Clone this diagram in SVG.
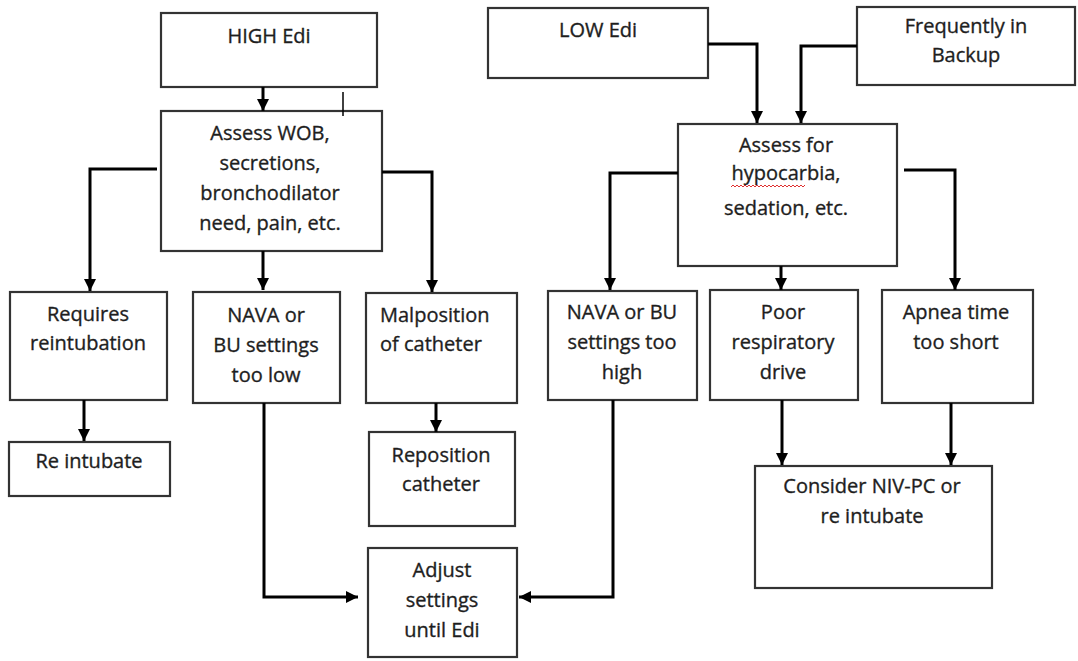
<svg xmlns="http://www.w3.org/2000/svg" width="1078" height="661" viewBox="0 0 1078 661">
<defs>
<marker id="ah" markerUnits="userSpaceOnUse" viewBox="0 0 12 13" markerWidth="12" markerHeight="13" refX="12" refY="6.5" orient="auto">
<path d="M0,0.5 L12,6.5 L0,12.5 z" fill="#000"/>
</marker>
<style>
.box{fill:#fff;stroke:#333;stroke-width:2.2}
.t{font-family:"Open Sans","Liberation Sans",sans-serif;font-size:20px;fill:#1e1e1e;stroke:#1e1e1e;stroke-width:0.35;text-anchor:middle}
.ts{font-family:"Open Sans","Liberation Sans",sans-serif;font-size:20px;fill:#1e1e1e;stroke:#1e1e1e;stroke-width:0.35;text-anchor:start}
.c{fill:none;stroke:#000;stroke-width:3;marker-end:url(#ah)}
</style>
</defs>
<rect width="1078" height="661" fill="#fff"/>
<g id="high-edi"><rect class="box" x="161" y="13" width="216" height="74"/><text class="t" x="269" y="43">HIGH Edi</text></g>
<g id="assess-wob"><rect class="box" x="161" y="111" width="221" height="140"/>
<text class="t" x="270" y="140">Assess WOB,</text><text class="t" x="270" y="170">secretions,</text><text class="t" x="270" y="200">bronchodilator</text><text class="t" x="270" y="230">need, pain, etc.</text></g>
<g id="requires"><rect class="box" x="10" y="292" width="157" height="108"/><text class="t" x="88" y="321">Requires</text><text class="t" x="88" y="350">reintubation</text></g>
<g id="nava-low"><rect class="box" x="193" y="292" width="147" height="111"/><text class="t" x="266" y="322">NAVA or</text><text class="t" x="266" y="352">BU settings</text><text class="t" x="266" y="382">too low</text></g>
<g id="malposition"><rect class="box" x="366" y="293" width="151" height="110"/><text class="ts" x="380" y="322">Malposition</text><text class="ts" x="380" y="351">of catheter</text></g>
<g id="reintubate"><rect class="box" x="9" y="442" width="161" height="54"/><text class="t" x="89" y="468">Re intubate</text></g>
<g id="reposition"><rect class="box" x="369" y="432" width="146" height="94"/><text class="t" x="441" y="462">Reposition</text><text class="t" x="441" y="491">catheter</text></g>
<g id="adjust"><rect class="box" x="368" y="548" width="149" height="109"/><text class="t" x="442" y="577">Adjust</text><text class="t" x="442" y="607">settings</text><text class="t" x="442" y="637">until Edi</text></g>
<g id="low-edi"><rect class="box" x="488" y="8" width="220" height="70"/><text class="ts" x="559" y="37">LOW Edi</text></g>
<g id="backup"><rect class="box" x="857" y="7" width="218" height="78"/><text class="t" x="966" y="33">Frequently in</text><text class="t" x="966" y="62">Backup</text></g>
<g id="assess-for"><rect class="box" x="678" y="124" width="219" height="142"/><text class="t" x="786" y="152">Assess for</text><text class="t" x="786" y="180">hypocarbia,</text><text class="t" x="786" y="215">sedation, etc.</text>
<path d="M731,187 l2,-2 l2,2 l2,-2 l2,2 l2,-2 l2,2 l2,-2 l2,2 l2,-2 l2,2 l2,-2 l2,2 l2,-2 l2,2 l2,-2 l2,2 l2,-2 l2,2 l2,-2 l2,2 l2,-2 l2,2 l2,-2 l2,2 l2,-2 l2,2 l2,-2 l2,2 l2,-2 l2,2 l2,-2 l2,2 l2,-2 l2,2 l2,-2 l2,2 l2,-2" fill="none" stroke="#e03030" stroke-width="1"/></g>
<g id="nava-high"><rect class="box" x="548" y="291" width="149" height="109"/><text class="t" x="622" y="319">NAVA or BU</text><text class="t" x="622" y="349">settings too</text><text class="t" x="622" y="379">high</text></g>
<g id="poor-drive"><rect class="box" x="710" y="290" width="148" height="110"/><text class="t" x="783" y="319">Poor</text><text class="t" x="783" y="349">respiratory</text><text class="t" x="783" y="379">drive</text></g>
<g id="apnea"><rect class="box" x="882" y="290" width="151" height="113"/><text class="t" x="956" y="319">Apnea time</text><text class="t" x="956" y="349">too short</text></g>
<g id="consider"><rect class="box" x="755" y="466" width="237" height="122"/><text class="t" x="872" y="493">Consider NIV-PC or</text><text class="t" x="872" y="523">re intubate</text></g>
<g id="connectors">
<path class="c" d="M263,87 V111"/>
<path class="c" d="M157,169 H90 V291"/>
<path class="c" d="M263,251 V290"/>
<path class="c" d="M382,172 H432 V292"/>
<path class="c" d="M84,400 V441"/>
<path class="c" d="M436,403 V432"/>
<path class="c" d="M264,403 V597 H358"/>
<path class="c" d="M613,400 V597 H519"/>
<path class="c" d="M708,44 H757 V123"/>
<path class="c" d="M857,46 H801 V123"/>
<path class="c" d="M678,173 H610 V290"/>
<path class="c" d="M781,266 V290"/>
<path class="c" d="M904,170 H955 V290"/>
<path class="c" d="M782,400 V465"/>
<path class="c" d="M951,403 V465"/>
<path d="M343,92 V116" fill="none" stroke="#000" stroke-width="1.5"/>
</g>
</svg>
